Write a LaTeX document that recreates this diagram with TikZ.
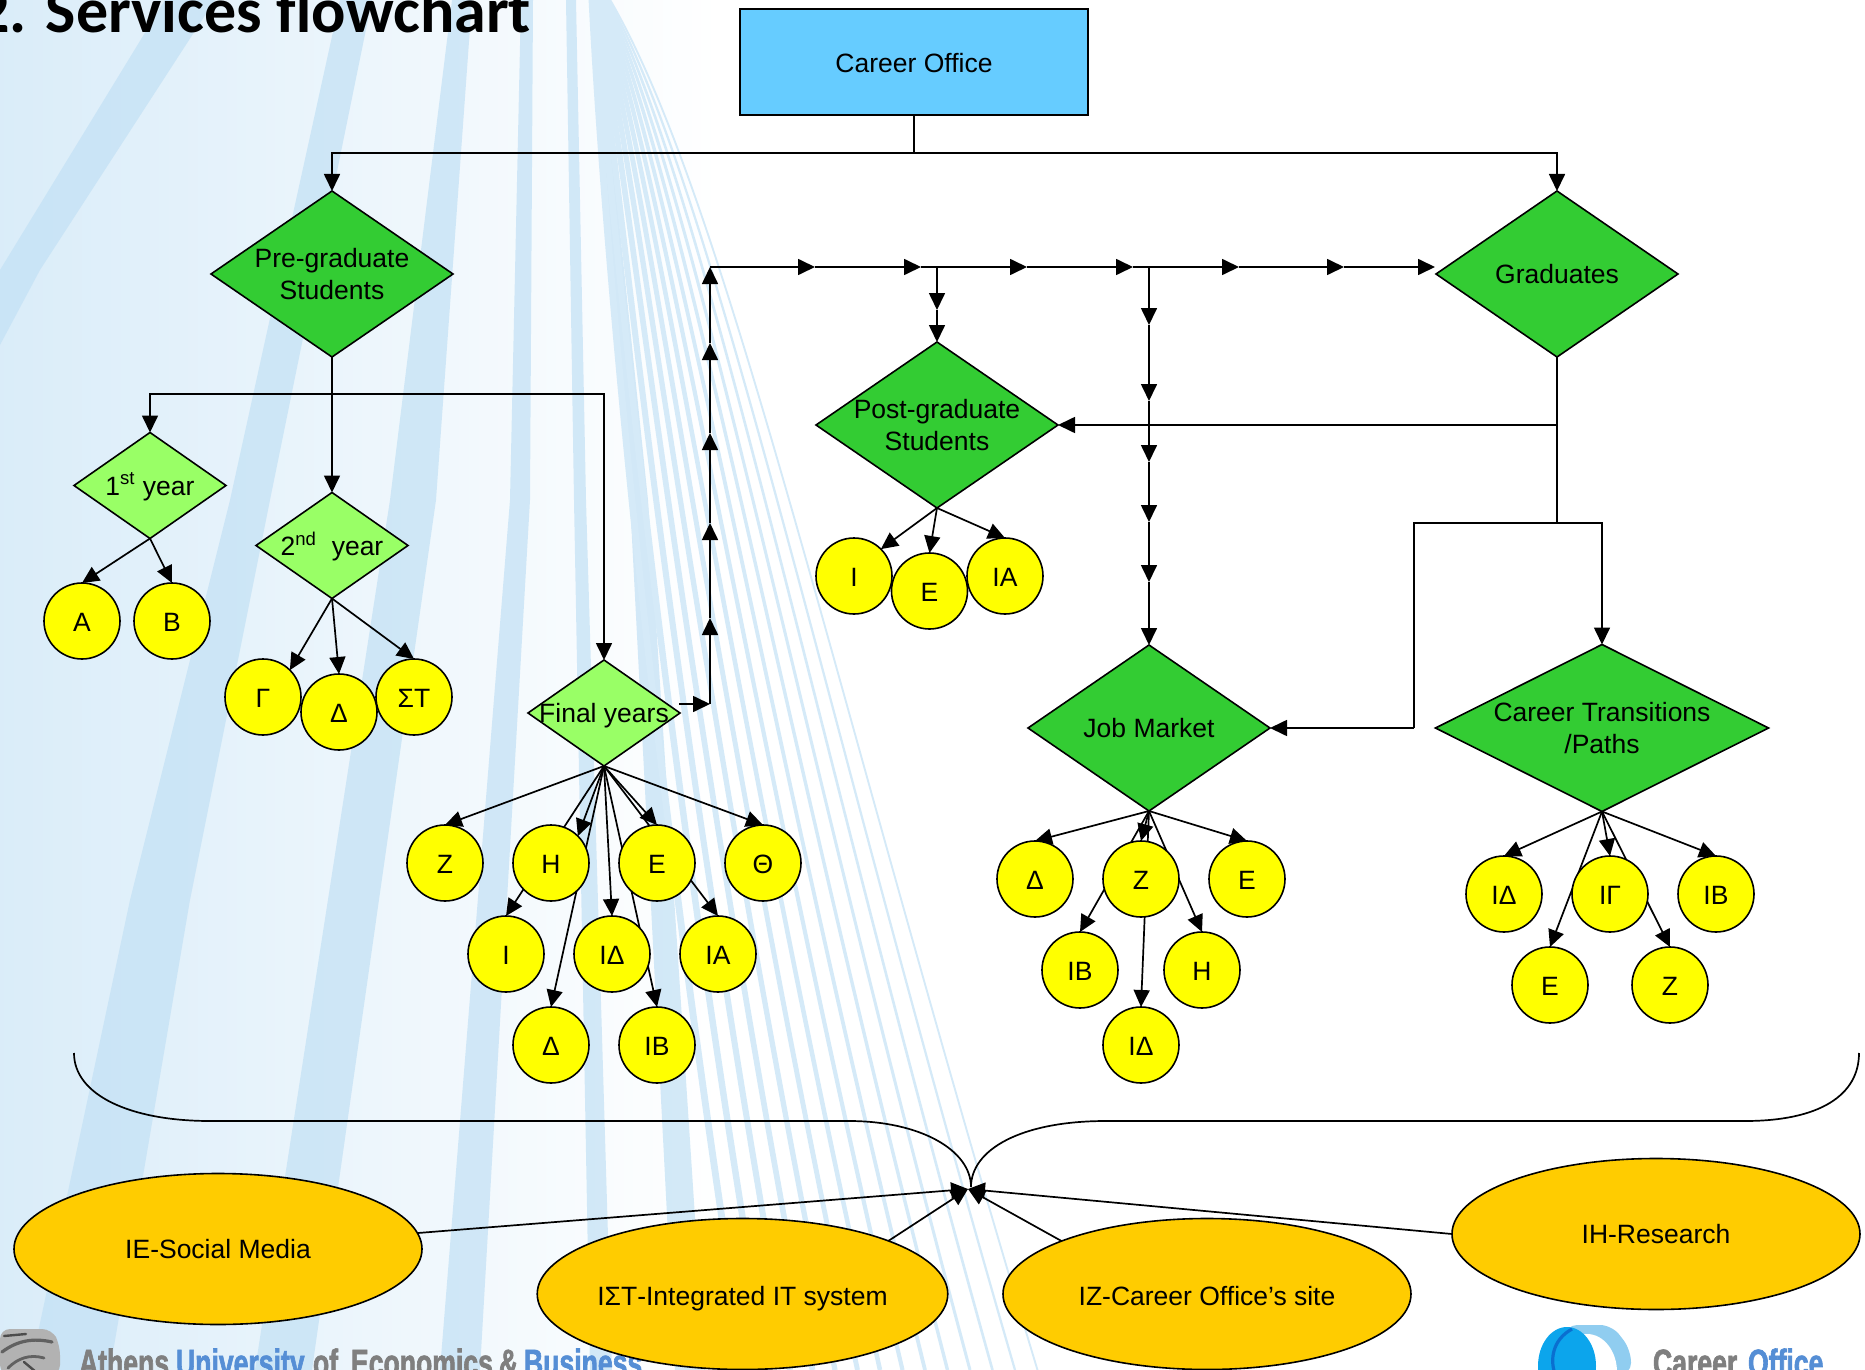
\documentclass[tikz,border=0pt]{standalone}
\usepackage{fontspec}
\setmainfont{Liberation Sans}
\newfontfamily\titlefont{Carlito}
\newfontfamily\footfont[FakeStretch=0.7,FakeBold=1.6]{Liberation Sans Bold}
\usetikzlibrary{shapes.geometric,arrows.meta}
\pgfdeclarelayer{wall}
\pgfdeclarelayer{conn}
\pgfsetlayers{wall,conn,main}
\definecolor{boxblue}{HTML}{66CCFF}
\definecolor{dgreen}{HTML}{33CC33}
\definecolor{lgreen}{HTML}{99FF66}
\definecolor{ringy}{HTML}{FFFF00}
\definecolor{ringo}{HTML}{FFCC00}
\definecolor{streak}{HTML}{C3E1F5}
\definecolor{footblue}{HTML}{558ED5}
\definecolor{footgrey}{HTML}{7F7F7F}
\definecolor{logolight}{HTML}{90CDF0}
\definecolor{logomain}{HTML}{0CA5EC}
\definecolor{logodark}{HTML}{0A6FD0}
\newcommand{\dtxt}[1]{\makebox[0pt]{\smash{\raisebox{-5.2pt}{\begin{tabular}{@{}c@{}}#1\end{tabular}}}}}
\tikzset{
  every node/.style={font=\fontsize{13.25}{16}\selectfont, inner sep=0pt, outer sep=0pt},
  boxn/.style={draw=black, line width=.8pt, fill=boxblue, minimum width=174pt, minimum height=53pt, text height=10.4pt, text depth=0pt},
  bigd/.style={draw=black, line width=.8pt, fill=dgreen, diamond, aspect=1.458, minimum width=121pt, minimum height=83pt},
  wided/.style={draw=black, line width=.8pt, fill=dgreen, diamond, aspect=1.994, minimum width=166.5pt, minimum height=83.5pt},
  smalld/.style={draw=black, line width=.8pt, fill=lgreen, diamond, aspect=1.43, minimum width=76pt, minimum height=53pt},
  ring/.style={draw=black, line width=.8pt, fill=ringy, circle, minimum size=38pt, text height=10.4pt, text depth=0pt},
  oval/.style={draw=black, line width=.8pt, fill=ringo, ellipse, minimum width=204pt, minimum height=75.5pt, text height=9.6pt, text depth=0pt},
  conn/.style={draw=black, line width=.85pt, -{Triangle[length=8.5pt,width=8pt]}},
  link/.style={draw=black, line width=.85pt},
  foot/.style={anchor=base west, font=\footfont\fontsize{19}{20}\selectfont}
}
\begin{document}
\begin{tikzpicture}[x=0.5pt,y=-0.5pt]
\useasboundingbox (0,0) rectangle (1865,1370);
% ---------- wallpaper
\begin{pgfonlayer}{wall}
\fill[white] (0,0) rectangle (1865,1370);
\shade[left color=streak!62!white, right color=white] (0,0) rectangle (720,1370);
\begin{scope}[fill=streak, fill opacity=.72]
\fill (165,0) -- (215,0) -- (40,270) -- (0,345) -- (0,270) -- cycle;
\fill (340,0) -- (372,0) -- (270,500) -- (190,900) -- (110,1370) -- (30,1370) -- (130,900) -- (230,500) -- cycle;
\fill (452,0) -- (472,0) -- (436,500) -- (312,1370) -- (255,1370) -- (390,500) -- cycle;
\fill (521,0) -- (533,0) -- (530,500) -- (480,1370) -- (440,1370) -- (510,500) -- cycle;
\fill (566,0) -- (576,0) -- (586,500) -- (612,1370) -- (590,1370) -- (574,500) -- cycle;
\fill (590,0) -- (596,0) -- (648,500) -- (705,1370) -- (675,1370) -- (630,500) -- cycle;
\end{scope}
\foreach \i in {0,...,13}{
  \draw[streak!70!white, line width={3.4pt-0.19pt*\i}]
    ({592+\i*1.4},0) .. controls ({602+\i*9.6},200) and ({640+\i*15},700) .. ({745+\i*22.5},1370);
}
\end{pgfonlayer}
% ---------- title and footer
\node[anchor=base west, font=\titlefont\bfseries\fontsize{32}{36}\selectfont] (title) at (-23,33) {2. Services flowchart};
\node[foot, text=footgrey] (f1) at (79,1376) {Athens};
\node[foot, text=footblue] (f2) at (176,1376) {University};
\node[foot, text=footgrey] (f3) at (313,1376) {of};
\node[foot, text=footgrey] (f4) at (351,1376) {Economics};
\node[foot, text=footgrey] (f5) at (499,1376) {\&};
\node[foot, text=footblue] (f6) at (524,1376) {Business};
\node[foot, text=footgrey] (f7) at (1653,1376) {Career};
\node[foot, text=footblue] (f8) at (1748,1376) {Office};
% statue and logo
\fill[rounded corners=5pt, fill=black!30] (0,1329) -- (52,1329) -- (60,1345) -- (60,1375) -- (0,1375) -- cycle;
\draw[black!62, line width=1.6pt, line cap=round] (2,1352) .. controls (18,1340) and (34,1338) .. (52,1342);
\draw[black!62, line width=1.4pt, line cap=round] (8,1368) .. controls (18,1358) and (30,1354) .. (44,1358);
\draw[black!70, line width=1.2pt, line cap=round] (4,1336) -- (26,1334) (24,1362) -- (36,1372);
\fill[rounded corners=6pt, fill=white] (1538,1325) rectangle (1631,1375);
\fill[rounded corners=6pt, fill=logolight] (1565,1325) -- (1612,1325) -- (1631,1350) -- (1631,1375) -- (1565,1375) -- cycle;
\fill[white] (1587,1372) ellipse [x radius=30, y radius=38];
\fill[fill=logomain] (1567,1366) ellipse [x radius=29, y radius=39];
\draw[logodark, line width=1.6pt] (1572,1329) .. controls (1552,1340) and (1550,1360) .. (1555,1374);
% ---------- nodes
\node[boxn] (career) at (914,62) {Career Office};
\node[bigd] (pre) at (332,274) {\dtxt{Pre-graduate\\Students}};
\node[bigd] (grad) at (1557,274) {\dtxt{Graduates}};
\node[bigd] (post) at (937,425) {\dtxt{Post-graduate\\Students}};
\node[bigd] (job) at (1149,728) {\dtxt{Job Market}};
\node[wided] (trans) at (1602,728) {\dtxt{Career Transitions\\/Paths}};
\node[smalld] (y1) at (150,485.5) {\dtxt{1\textsuperscript{st} year}};
\node[smalld] (y2) at (332,545.5) {\dtxt{2\textsuperscript{nd}\ \ year}};
\node[smalld] (fin) at (604,713) {\dtxt{Final years}};
% first years
\node[ring] (a1) at (82,621) {Α};
\node[ring] (a2) at (172,621) {Β};
\node[ring] (b1) at (263,697) {Γ};
\node[ring] (b2) at (339,712) {Δ};
\node[ring] (b3) at (414,697) {ΣΤ};
% final years
\node[ring] (c1) at (445,863) {Ζ};
\node[ring] (c2) at (551,863) {Η};
\node[ring] (c3) at (657,863) {Ε};
\node[ring] (c4) at (763,863) {Θ};
\node[ring] (c5) at (506,954) {Ι};
\node[ring] (c6) at (612,954) {ΙΔ};
\node[ring] (c7) at (718,954) {ΙΑ};
\node[ring] (c8) at (551,1045) {Δ};
\node[ring] (c9) at (657,1045) {ΙΒ};
% post-graduate
\node[ring] (d1) at (854,576) {Ι};
\node[ring] (d2) at (929.5,591) {Ε};
\node[ring] (d3) at (1005,576) {ΙΑ};
% job market
\node[ring] (e1) at (1035,879) {Δ};
\node[ring] (e2) at (1141,879) {Ζ};
\node[ring] (e3) at (1247,879) {Ε};
\node[ring] (e4) at (1080,970) {ΙΒ};
\node[ring] (e5) at (1202,970) {Η};
\node[ring] (e6) at (1141,1045) {ΙΔ};
% career transitions
\node[ring] (g1) at (1504,894) {ΙΔ};
\node[ring] (g2) at (1610,894) {ΙΓ};
\node[ring] (g3) at (1716,894) {ΙΒ};
\node[ring] (g4) at (1550,985) {Ε};
\node[ring] (g5) at (1670,985) {Ζ};
% ovals
\node[oval] (ie) at (218,1249) {ΙΕ-Social Media};
\node[oval, text height=11.6pt] (ist) at (742.5,1294) {ΙΣΤ-Integrated IT system};
\node[oval, text height=11.6pt] (iz) at (1207,1294) {ΙΖ-Career Office’s site};
\node[oval] (ih) at (1656,1234) {ΙΗ-Research};
% ---------- junctions
\coordinate (top) at (914,153);
\coordinate (pj) at (332,394);
\coordinate (fo) at (679,704);
\coordinate (fc) at (710,704);
\coordinate (u1) at (710,618);
\coordinate (u2) at (710,523);
\coordinate (u3) at (710,433);
\coordinate (u4) at (710,343);
\coordinate (u5) at (710,267);
\coordinate (r1) at (815,267);
\coordinate (r2) at (921,267);
\coordinate (r3) at (1027,267);
\coordinate (r4) at (1133,267);
\coordinate (r5) at (1239,267);
\coordinate (r6) at (1344,267);
\coordinate (r7) at (1435,267);
\coordinate (pb) at (937,267);
\coordinate (pm) at (937,310);
\coordinate (jb) at (1149,267);
\coordinate (j1) at (1149,325);
\coordinate (j2) at (1149,401);
\coordinate (j3) at (1149,462);
\coordinate (j4) at (1149,522);
\coordinate (j5) at (1149,582);
\coordinate (gp) at (1557,425);
\coordinate (gj) at (1557,523);
\coordinate (gl) at (1414,523);
\coordinate (gd) at (1414,728);
\coordinate (hub) at (968,1189);
\coordinate (bm) at (971,1187);
\coordinate (bl) at (74,1053);
\coordinate (bl1) at (210,1121);
\coordinate (bl2) at (849,1121);
\coordinate (br) at (1859,1053);
\coordinate (br1) at (1745,1121);
\coordinate (br2) at (1106,1121);
% ---------- connectors
\begin{pgfonlayer}{conn}
\draw[link] (career.south) -- (top);
\draw[conn] (top) -| (pre.north);
\draw[conn] (top) -| (grad.north);
\draw[link] (pre.south) -- (pj);
\draw[conn] (pj) -- (y2.north);
\draw[conn] (pj) -| (y1.north);
\draw[conn] (pj) -| (fin.north);
\draw[conn] (y1.south) -- (a1.north);
\draw[conn] (y1.south) -- (a2.north);
\draw[conn] (y2.south) -- (b1.north east);
\draw[conn] (y2.south) -- (b2.north);
\draw[conn] (y2.south) -- (b3.north);
\foreach \n in {c1,c3,c4,c5,c6,c7,c8,c9}{\draw[conn] (fin.south) -- (\n.north);}
\draw[conn] (fin.south) -- (c2.north east);
\draw[conn] (fo) -- (fc);
\draw[conn] (fc) -- (u1);
\draw[conn] (u1) -- (u2);
\draw[conn] (u2) -- (u3);
\draw[conn] (u3) -- (u4);
\draw[conn] (u4) -- (u5);
\draw[conn] (u5) -- (r1);
\draw[conn] (r1) -- (r2);
\draw[conn] (r2) -- (r3);
\draw[conn] (r3) -- (r4);
\draw[conn] (r4) -- (r5);
\draw[conn] (r5) -- (r6);
\draw[conn] (r6) -- (r7);
\draw[conn] (pb) -- (pm);
\draw[conn] (pm) -- (post.north);
\draw[conn] (jb) -- (j1);
\draw[conn] (j1) -- (j2);
\draw[conn] (j2) -- (j3);
\draw[conn] (j3) -- (j4);
\draw[conn] (j4) -- (j5);
\draw[conn] (j5) -- (job.north);
\draw[link] (grad.south) -- (gj);
\draw[conn] (gp) -- (post.east);
\draw[link] (gj) -- (gl) -- (gd);
\draw[conn] (gd) -- (job.east);
\draw[conn] (gj) -| (trans.north);
\draw[conn] (post.south) -- (d1.north east);
\draw[conn] (post.south) -- (d2.north);
\draw[conn] (post.south) -- (d3.north);
\foreach \n in {e1,e2,e3,e4,e5,e6}{\draw[conn] (job.south) -- (\n.north);}
\foreach \n in {g1,g2,g3,g4,g5}{\draw[conn] (trans.south) -- (\n.north);}
\draw[link] (bl) .. controls +(0,42) and +(-80,0) .. (bl1) -- (bl2) .. controls +(71,0) and +(0,-37) .. (bm);
\draw[link] (br) .. controls +(0,42) and +(75,0) .. (br1) -- (br2) .. controls +(-86,0) and +(0,-37) .. (bm);
\draw[conn] (ie) -- (hub);
\draw[conn] (ist.20) -- (hub);
\draw[conn] (iz.160) -- (hub);
\draw[conn] (ih.west) -- (hub);
\end{pgfonlayer}
\end{tikzpicture}
\end{document}
